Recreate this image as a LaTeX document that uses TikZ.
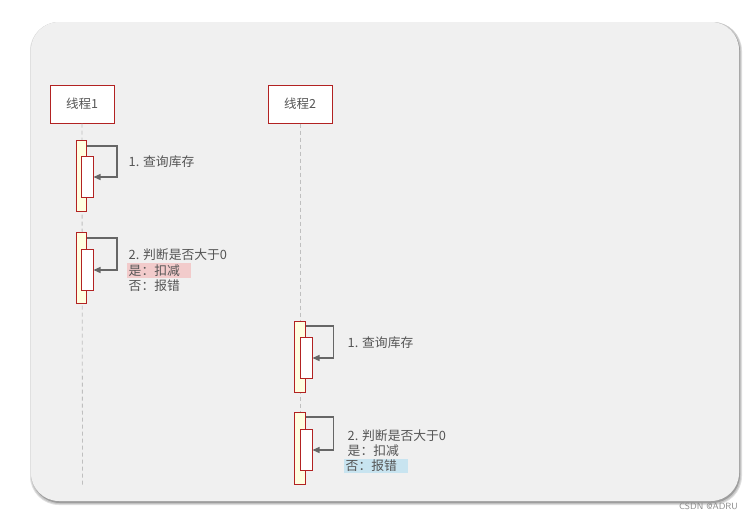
\documentclass[tikz,border=0pt]{standalone}
\usepackage{fontspec}
\newfontfamily\cjk{Noto Sans CJK SC}
\usetikzlibrary{arrows.meta,shadows}
\definecolor{panel}{HTML}{F0F0F0}
\definecolor{boxred}{HTML}{B22222}
\definecolor{actfill}{HTML}{FFFFE0}
\definecolor{txt}{HTML}{555555}
\definecolor{pinkhl}{HTML}{F2CBCB}
\definecolor{bluehl}{HTML}{C8E4F0}
\tikzset{
  lifebox/.style={draw=boxred, fill=white, line width=1pt, minimum width=64pt, minimum height=38pt, inner sep=0pt, font=\cjk\fontsize{12.5}{14}\selectfont, text=txt},
  outeract/.style={draw=boxred, fill=actfill, line width=1pt, minimum width=10.5pt, inner sep=0pt, anchor=north west},
  inneract/.style={draw=boxred, fill=white, line width=1pt, minimum width=11.5pt, inner sep=0pt, anchor=north west},
  msg/.style={draw=txt!90, line width=1.3pt, -{Triangle[length=7pt,width=6pt]}},
  lifeline/.style={draw=black!25, line width=0.8pt, dash pattern=on 4pt off 3pt},
  lbl/.style={anchor=west, inner sep=1.5pt, font=\cjk\fontsize{12.8}{14}\selectfont, text=txt},
}
\begin{document}
\begin{tikzpicture}[x=1pt,y=-1pt]
\useasboundingbox (0,0) rectangle (753,520);
\fill[white] (0,0) rectangle (753,520);
% panel with soft shadow
\fill[black!12, rounded corners=29pt] (30,22) rectangle (742,505);
\fill[black!22, rounded corners=28pt] (31,22) rectangle (741,504);
\fill[black!38, rounded corners=28pt] (32,23) rectangle (740,503);
\fill[panel, rounded corners=28pt] (31,22) rectangle (739,501);
% lifeline heads
\node[lifebox] (t1) at (82,104) {线程1};
\node[lifebox] (t2) at (300,104) {线程2};
\coordinate (e1) at (82.5,485);
\coordinate (e2) at (300,485);
\draw[lifeline] (t1.south) -- (e1);
\draw[lifeline] (t2.south) -- (e2);
% thread 1 activations
\node[outeract, minimum height=71pt] (o1) at (75.5,140) {};
\node[inneract, minimum height=41pt] (i1) at (81,156) {};
\draw[msg] ([yshift=-6pt]o1.north east) -- ++(30,0) |- (i1.east);
\node[outeract, minimum height=71pt] (o2) at (75.5,232) {};
\node[inneract, minimum height=41pt] (i2) at (81,249) {};
\draw[msg] ([yshift=-6pt]o2.north east) -- ++(30,0) |- (i2.east);
% thread 2 activations
\node[outeract, minimum height=71pt] (o3) at (294,321) {};
\node[inneract, minimum height=41pt] (i3) at (300,337) {};
\draw[msg] ([yshift=-5pt]o3.north east) -- ++(28,0) |- (i3.east);
\node[outeract, minimum height=72pt] (o4) at (294,412) {};
\node[inneract, minimum height=41pt] (i4) at (300,429) {};
\draw[msg] ([yshift=-5pt]o4.north east) -- ++(28,0) |- (i4.east);
% labels thread 1
\node[lbl] (l1) at (127,162) {1. 查询库存};
\node[lbl] (l2) at (127,255) {2. 判断是否大于0};
\node[lbl, fill=pinkhl, text width=61pt] (l3) at (127,270.5) {是：扣减};
\node[lbl] (l4) at (127,286) {否：报错};
% labels thread 2
\node[lbl] (m1) at (346,343) {1. 查询库存};
\node[lbl] (m2) at (346,436) {2. 判断是否大于0};
\node[lbl] (m3) at (346,451) {是：扣减};
\node[lbl, fill=bluehl, text width=61pt] (m4) at (344,466) {否：报错};
% watermark
\node[anchor=east, font=\sffamily\fontsize{9}{10}\selectfont, text=black!45, inner sep=0pt] (wm) at (738,506) {CSDN @ADRU};
\end{tikzpicture}
\end{document}
